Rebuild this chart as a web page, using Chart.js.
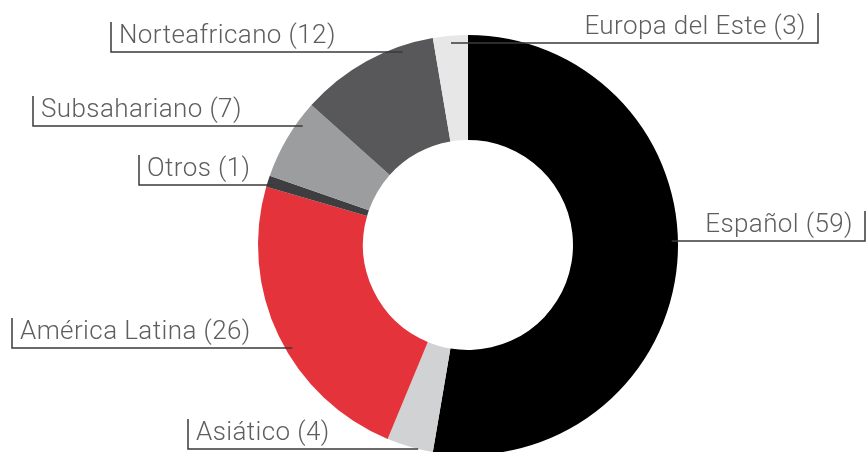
<!DOCTYPE html>
<html>
<head>
<meta charset="utf-8">
<style>
  html, body { margin: 0; padding: 0; background: #fff; overflow: hidden; }
  #wrap { width: 868px; height: 460px; }
</style>
<script src="https://cdn.jsdelivr.net/npm/chart.js@4/dist/chart.umd.min.js"></script>
</head>
<body>
<div id="wrap"><canvas id="origenChart" width="868" height="460"></canvas></div>
<script>
// Data (clockwise from 12 o'clock)
const categories = ["Español", "Asiático", "América Latina", "Otros", "Subsahariano", "Norteafricano", "Europa del Este"];
const values = [59, 4, 26, 1, 7, 12, 3];
const sliceColors = ["#000000", "#d1d2d4", "#e4333a", "#3e3e40", "#9c9d9f", "#58585a", "#e7e7e8"];

// Label layout: side, x of the small vertical tick, y of the underline
const labelLayout = [
  { side: "right", tickX: 865, lineY: 241 },
  { side: "left", tickX: 188, lineY: 449 },
  { side: "left", tickX: 12, lineY: 348 },
  { side: "left", tickX: 139, lineY: 185 },
  { side: "left", tickX: 33, lineY: 126 },
  { side: "left", tickX: 111, lineY: 52 },
  { side: "right", tickX: 818, lineY: 43 }
];

// Draw the labels with leader lines into each slice
const leaderLabels = {
  id: "leaderLabels",
  afterDatasetsDraw(chart) {
    const ctx = chart.ctx;
    const arcs = chart.getDatasetMeta(0).data;
    ctx.save();
    ctx.font = "300 26px Roboto, 'Liberation Sans', sans-serif";
    if ("letterSpacing" in ctx) ctx.letterSpacing = "0.4px";
    ctx.textBaseline = "alphabetic";
    arcs.forEach((arc, i) => {
      const lay = labelLayout[i];
      const { x: cx, y: cy, outerRadius: R, startAngle, endAngle } = arc.getProps(["x", "y", "outerRadius", "startAngle", "endAngle"], true);
      const dy = lay.lineY - cy;
      const dir = lay.side === "left" ? -1 : 1;
      let rr = R * 0.97;
      if (Math.abs(dy) >= rr) rr = R;
      let ex = cx + dir * Math.sqrt(Math.max(0, rr * rr - dy * dy));
      // keep the end point inside its slice
      let a = Math.atan2(dy, ex - cx);
      while (a < startAngle) a += Math.PI * 2;
      while (a > startAngle + Math.PI * 2) a -= Math.PI * 2;
      if (a > endAngle) {
        const mid = (startAngle + endAngle) / 2;
        ex = cx + dy / Math.tan(mid);
      }
      const text = categories[i] + " (" + values[i] + ")";
      ctx.strokeStyle = "#3a3a3a";
      ctx.lineWidth = 1.5;
      ctx.beginPath();
      ctx.moveTo(lay.tickX, lay.lineY - 30);
      ctx.lineTo(lay.tickX, lay.lineY);
      ctx.lineTo(ex, lay.lineY);
      ctx.stroke();
      ctx.fillStyle = "#5e5e60";
      if (lay.side === "left") {
        ctx.textAlign = "left";
        ctx.fillText(text, lay.tickX + 8, lay.lineY - 9);
      } else {
        ctx.textAlign = "right";
        ctx.fillText(text, lay.tickX - 12, lay.lineY - 9);
      }
    });
    ctx.restore();
  }
};

const ctx = document.getElementById("origenChart");
new Chart(ctx, {
  type: "doughnut",
  data: {
    labels: categories,
    datasets: [{
      data: values,
      backgroundColor: sliceColors,
      borderWidth: 0,
      hoverOffset: 0
    }]
  },
  options: {
    responsive: false,
    animation: false,
    devicePixelRatio: 1,
    cutout: "50%",
    events: [],
    layout: { padding: { top: 35, bottom: 5, left: 258, right: 190 } },
    plugins: {
      legend: { display: false },
      tooltip: { enabled: false }
    }
  },
  plugins: [leaderLabels]
});
</script>
</body>
</html>
